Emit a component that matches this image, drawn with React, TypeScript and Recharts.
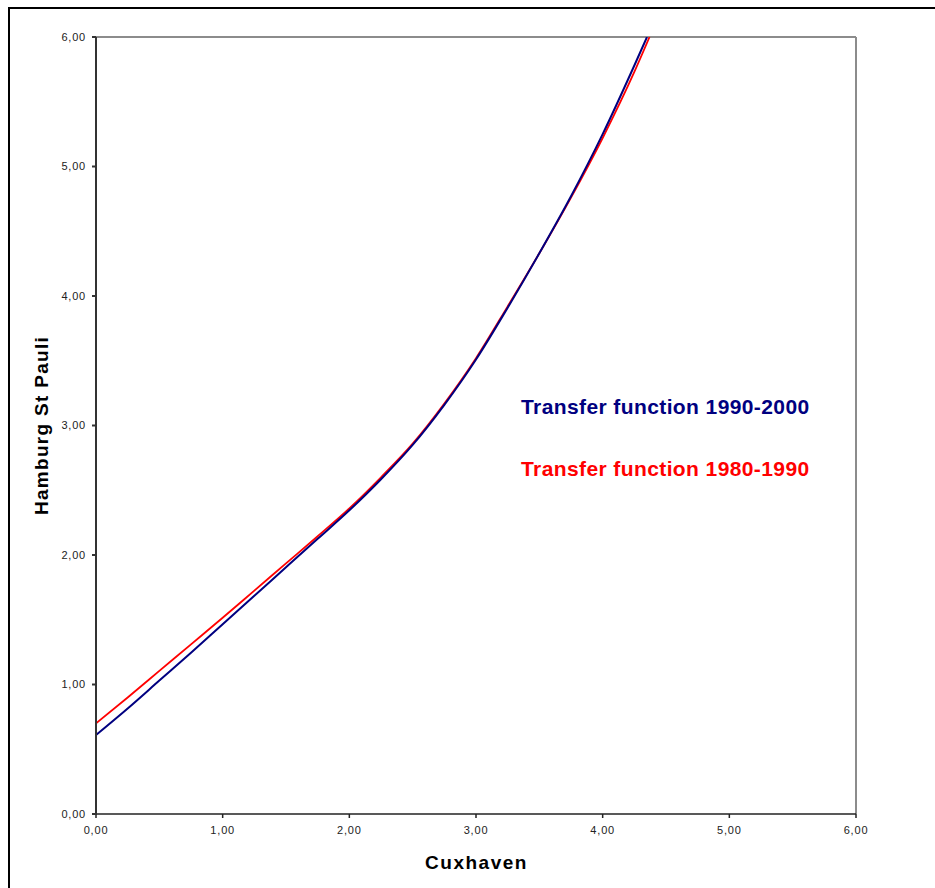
import React from 'react';
import {
  LineChart,
  Line,
  XAxis,
  YAxis,
  ReferenceLine,
  Customized,
} from 'recharts';

// Cuxhaven water level (x) mapped to Hamburg St Pauli (y)
const xRecent = [0, 0.25, 0.5, 0.75, 1.0, 1.25, 1.5, 1.75, 2.0, 2.25, 2.5, 2.75, 3.0, 3.25, 3.5, 3.75, 4.0, 4.25, 4.35];
const yRecent = [0.61, 0.815, 1.03, 1.245, 1.465, 1.685, 1.905, 2.125, 2.345, 2.585, 2.85, 3.16, 3.51, 3.91, 4.33, 4.77, 5.25, 5.78, 6.0];

const xOlder = [0, 0.25, 0.5, 0.75, 1.0, 1.25, 1.5, 1.75, 2.0, 2.25, 2.5, 2.75, 3.0, 3.25, 3.5, 3.75, 4.0, 4.25, 4.37];
const yOlder = [0.7, 0.9, 1.105, 1.31, 1.515, 1.725, 1.935, 2.145, 2.36, 2.6, 2.86, 3.17, 3.52, 3.92, 4.33, 4.76, 5.22, 5.73, 6.0];

const axisTicks = [0, 1, 2, 3, 4, 5, 6];

const recentData = xRecent.map((x, i) => ({ x, y: yRecent[i] }));
const olderData = xOlder.map((x, i) => ({ x, y: yOlder[i] }));

const font = '"Liberation Sans", Arial, sans-serif';
const fmt = (v: number) => v.toFixed(2).replace('.', ',');

const Texts = () => (
  <g fontFamily={font} fontWeight="bold">
    <text
      x={48}
      y={425.5}
      fontSize={19}
      letterSpacing={1.3}
      textAnchor="middle"
      fill="#000"
      transform="rotate(-90, 48, 425.5)"
    >
      Hamburg St Pauli
    </text>
    <text x={476.5} y={869} fontSize={19} letterSpacing={1.5} textAnchor="middle" fill="#000">
      Cuxhaven
    </text>
    <text x={521} y={414} fontSize={21} letterSpacing={0.4} fill="#000080">
      Transfer function 1990-2000
    </text>
    <text x={521} y={476} fontSize={21} letterSpacing={0.4} fill="#ff0000">
      Transfer function 1980-1990
    </text>
  </g>
);

export default function App() {
  return (
    <div style={{ position: 'absolute', left: 0, top: 0, width: 935, height: 888, overflow: 'hidden', background: '#fff' }}>
      <div
        style={{
          position: 'absolute',
          left: 8,
          top: 7,
          width: 927,
          height: 881,
          borderTop: '2px solid #000',
          borderLeft: '2px solid #000',
          boxSizing: 'border-box',
        }}
      />
      <div style={{ position: 'absolute', left: 0, top: 0 }}>
        <LineChart width={935} height={888} margin={{ top: 37, right: 79, bottom: 0, left: 0 }}>
          <XAxis
            dataKey="x"
            type="number"
            domain={[0, 6]}
            ticks={axisTicks}
            tickFormatter={fmt}
            allowDataOverflow
            height={74}
            stroke="#222"
            strokeWidth={1.5}
            tickSize={4}
            tickMargin={8}
            tick={{ fill: '#222', fontSize: 11, fontFamily: font, letterSpacing: 0.8 }}
          />
          <YAxis
            type="number"
            domain={[0, 6]}
            ticks={axisTicks}
            tickFormatter={fmt}
            allowDataOverflow
            width={96}
            stroke="#333"
            strokeWidth={2}
            tickSize={4}
            tickMargin={6}
            tick={{ fill: '#222', fontSize: 11, fontFamily: font, letterSpacing: 0.8 }}
          />
          <ReferenceLine y={6} stroke="#8c8c8c" strokeWidth={2} />
          <ReferenceLine x={6} stroke="#8c8c8c" strokeWidth={2} />
          <Line
            data={olderData}
            dataKey="y"
            type="monotone"
            stroke="#ff0000"
            strokeWidth={1.8}
            dot={false}
            isAnimationActive={false}
          />
          <Line
            data={recentData}
            dataKey="y"
            type="monotone"
            stroke="#000080"
            strokeWidth={2}
            dot={false}
            isAnimationActive={false}
          />
          <Customized component={Texts} />
        </LineChart>
      </div>
    </div>
  );
}
